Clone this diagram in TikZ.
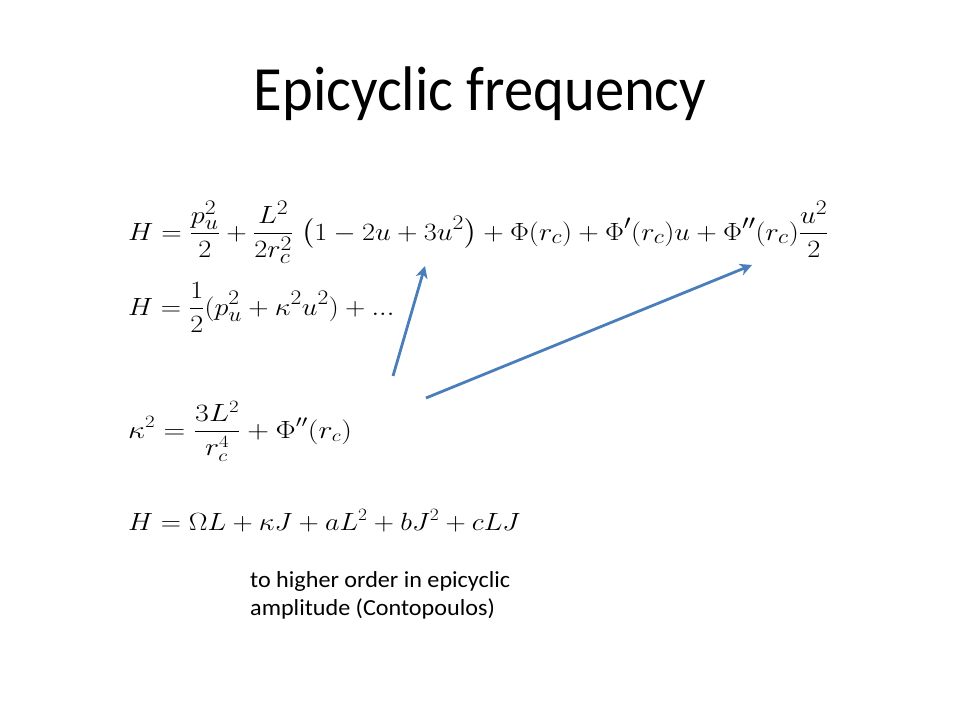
\documentclass[tikz,border=0pt]{standalone}
\usepackage{amsmath}
\usepackage[no-math]{fontspec}
\setmainfont{Carlito}
\usepackage{tikz}
\usetikzlibrary{arrows.meta}
\definecolor{pointerblue}{HTML}{4A7EBB}
\tikzset{
  eqn/.style={anchor=base west,inner sep=0pt},
  pointer/.style={draw=pointerblue,line width=2.8pt,-{Stealth[length=12pt,width=12pt,inset=3.5pt]}}
}

\begin{document}
\begin{tikzpicture}[x=1pt,y=-1pt]
        \useasboundingbox (0,0) rectangle (960,720);
        \node[anchor=base,inner sep=0pt,font=\fontsize{63}{70}\selectfont] (title) at (480,110) {\scalebox{0.93}[1]{Epicyclic frequency}};
        \node[eqn,font=\fontsize{29}{33}\selectfont] (hfull) at (128,240) {\scalebox{1.14}[1]{$\displaystyle H=\frac{p_u^2}{2}+\frac{L^2}{2r_c^2}\;\bigl(1-2u+3u^2\bigr)+\Phi(r_c)+\Phi'(r_c)u+\Phi''(r_c)\frac{u^2}{2}$}};
        \node[eqn,font=\fontsize{29}{33}\selectfont] (hquad) at (128,315) {\scalebox{1.13}[1]{$\displaystyle H=\frac{1}{2}(p_u^2+\kappa^2u^2)+...$}};
        \node[eqn,font=\fontsize{24}{28}\selectfont] (kappa) at (128,438) {\scalebox{1.21}[1]{$\displaystyle \kappa^2=\frac{3L^2}{r_c^4}+\Phi''(r_c)$}};
        \node[eqn,font=\fontsize{23}{27}\selectfont] (hhigh) at (128,530) {\scalebox{1.127}[1]{$H=\Omega L+\kappa J+aL^2+bJ^2+cLJ$}};
        \node[anchor=base west,inner sep=0pt,align=left,font=\fontsize{23}{28}\selectfont] (note) at (250,615) {\scalebox{1.05}[1]{to higher order in epicyclic}\\\scalebox{1.05}[1]{amplitude (Contopoulos)}};
        % arrows from kappa up to the terms
        \coordinate (tailA) at (393,376);
        \coordinate (tipA) at (425,266);
        \coordinate (tailB) at (426,398);
        \coordinate (tipB) at (752,265);
        \draw[pointer] (tailA) -- (tipA);
        \draw[pointer] (tailB) -- (tipB);
\end{tikzpicture}
\end{document}
